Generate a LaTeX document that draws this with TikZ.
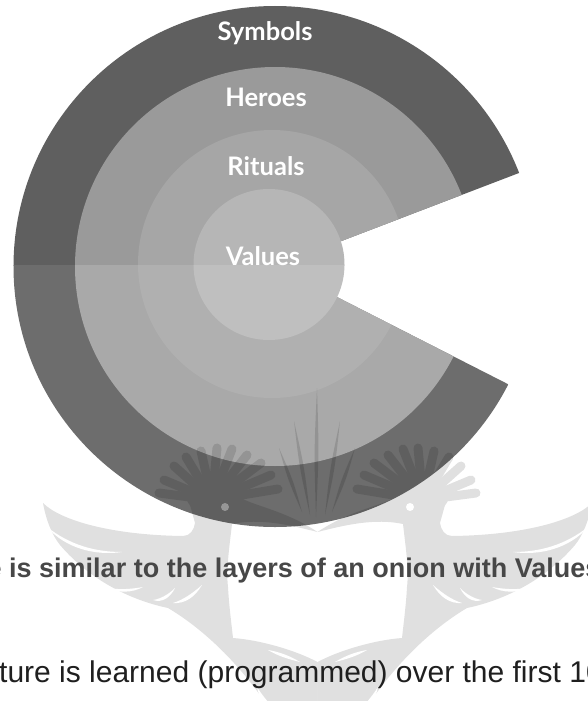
\documentclass[tikz,border=0pt]{standalone}
\usepackage{fontspec}
\setmainfont{Liberation Sans}
\newfontfamily\layerfont{Lato}
\usepackage{tikz}
\usetikzlibrary{calc}
\definecolor{csymup}{HTML}{5F5F5F}
\definecolor{csymlow}{HTML}{6D6D6D}
\definecolor{cherup}{HTML}{9A9A9A}
\definecolor{cherlow}{HTML}{A9A9A9}
\definecolor{critup}{HTML}{A6A6A6}
\definecolor{critlow}{HTML}{B0B0B0}
\definecolor{cvalup}{HTML}{B6B6B6}
\definecolor{cvallow}{HTML}{BFBFBF}
\tikzset{
  layer/.style={text=white, inner sep=0pt, font=\layerfont\bfseries\fontsize{25.5}{26}\selectfont},
  boldline/.style={anchor=base west, inner sep=0pt, text=black!72, font=\bfseries\fontsize{27}{30}\selectfont},
  plainline/.style={anchor=base west, inner sep=0pt, text=black!88, font=\fontsize{30}{34}\selectfont},
  inkmark/.style={black},
  slit/.style={white},
  feather/.style={black, line width=9pt, line cap=round},
}
\newcommand{\lens}[4]{\fill[inkmark] (#1,#2) .. controls ($(#1,#2)!.5!(#3,#4)+(-2.5,0)$) .. (#3,#4) .. controls ($(#1,#2)!.5!(#3,#4)+(2.5,0)$) .. cycle;}
\begin{document}
\begin{tikzpicture}[x=1pt,y=-1pt]
\useasboundingbox (0,0) rectangle (587,701);
\clip (0,0) rectangle (587,701);
% onion rings, cut by the open wedge
\begin{scope}
\clip (276,266) -- (600,142) -- (600,-10) -- (-10,-10) -- (-10,540) -- (600,540) -- (600,431) -- cycle;
\foreach \cx/\rx/\ry/\cy/\cup/\clow in {275/261.5/260.5/266.5/csymup/csymlow, 275/200/199.5/266.5/cherup/cherlow, 272/134/134/264/critup/critlow}{
  \begin{scope}
  \clip (-10,-10) rectangle (600,265);
  \fill[\cup] (\cx,\cy) ellipse [x radius=\rx pt, y radius=\ry pt];
  \end{scope}
  \begin{scope}
  \clip (-10,265) rectangle (600,540);
  \fill[\clow] (\cx,\cy) ellipse [x radius=\rx pt, y radius=\ry pt];
  \end{scope}
}
\end{scope}
% centre is whole
\begin{scope}
\clip (-10,-10) rectangle (600,265);
\fill[cvalup] (269,264.5) circle [radius=75.5pt];
\end{scope}
\begin{scope}
\clip (-10,265) rectangle (600,540);
\fill[cvallow] (269,264.5) circle [radius=75.5pt];
\end{scope}
\node[layer] (symbols) at (265,33) {Symbols};
\node[layer] (heroes) at (266,97) {Heroes};
\node[layer] (rituals) at (266,166) {Rituals};
\node[layer] (values) at (263,256) {Values};
% watermark, left bird and its mirror image
\foreach \flip/\shift/\eye in {1/0/.35,-1/635/1}{
  \begin{scope}[xshift=\shift pt, xscale=\flip]
  \begin{scope}[transparency group, opacity=.12]
  \fill[inkmark] (43,503) .. controls (60,520) and (110,535) .. (183,536) .. controls (190,536) and (194,530) .. (195,523)
    -- (190,505) -- (215,490) -- (240,497) .. controls (250,505) and (285,510) .. (317.5,532)
    .. controls (290,525) and (260,518) .. (232,524) .. controls (229,550) and (226,570) .. (228,587)
    .. controls (229,605) and (231,620) .. (233,638) .. controls (260,640) and (295,650) .. (317.5,662)
    -- (317.5,705) -- (267,705) .. controls (240,665) and (205,630) .. (168,608)
    .. controls (130,600) and (90,580) .. (60,545) .. controls (52,535) and (46,520) .. (43,503) -- cycle;
  \fill[inkmark] (213,495) ellipse [x radius=27pt, y radius=20pt];
  \foreach \tx/\ty in {155/490,160/477,170/463,182/454,197/448,213/445,228/446,243/452,257/460,267/472,274/486}{
    \draw[feather] ($(212,500)!.35!(\tx+4,\ty+3)$) -- (\tx+4,\ty+3);
  }
  \end{scope}
  \fill[white, opacity=\eye] (225,507) circle [radius=4pt];
  \fill[slit] (47,527) .. controls (70,545) and (95,552) .. (122,552) .. controls (95,556) and (65,548) .. cycle;
  \fill[slit] (108,588) .. controls (120,590) and (132,589) .. (143,587) .. controls (132,593) and (118,593) .. cycle;
  \fill[slit] (153,600) .. controls (160,599) and (168,595) .. (175,588) .. controls (170,598) and (162,603) .. cycle;
  \fill[slit] (173,603) .. controls (183,600) and (193,593) .. (202,585) .. controls (195,597) and (185,604) .. cycle;
  \fill[slit] (268,650) .. controls (280,652) and (290,656) .. (300,662) .. controls (288,659) and (278,656) .. cycle;
  \fill[slit] (257,687) .. controls (260,692) and (264,697) .. (268,702) -- (262,702) .. controls (260,697) and (258,692) .. cycle;
  \end{scope}
}
% leaves in the middle
\begin{scope}[opacity=.13]
\lens{316}{517}{317}{388}
\lens{310}{515}{294}{421}
\lens{325}{515}{340}{421}
\lens{302}{512}{279}{448}
\lens{332}{512}{355}{448}
\end{scope}
% clipped text below the figure
\node[boldline] (caption) at (-13.5,577) {e is similar to the layers of an onion with Values};
\node[plainline] (sentence) at (-1,682) {ture is learned (programmed) over the first 10};
\end{tikzpicture}
\end{document}
